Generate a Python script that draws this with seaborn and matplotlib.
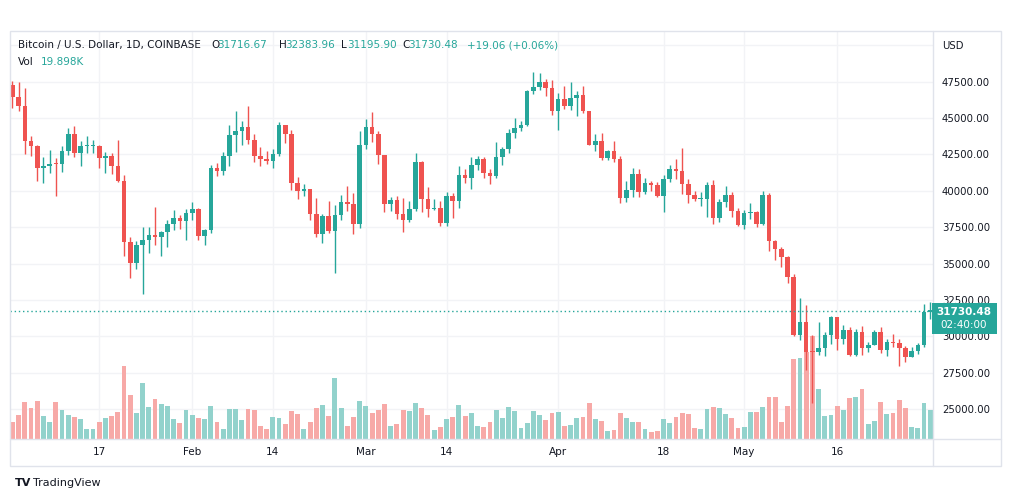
import matplotlib
matplotlib.use("Agg")
import matplotlib.pyplot as plt
from matplotlib.patches import Rectangle
from matplotlib.lines import Line2D
import seaborn as sns
import pandas as pd
import numpy as np

W, H = 1012, 501

# daily BTC/USD candles, Coinbase, 2022-01-03 .. 2022-05-31
dates = pd.date_range("2022-01-03", "2022-05-31", freq="D")

opens = [
    # Jan
    47300, 46430, 45830, 43430, 43080, 41550, 41680, 41860, 41830, 42730,
    43920, 42590, 43080, 43100, 43110, 42230, 42380, 41680, 40700, 36470,
    35050, 36280, 36660, 36960, 36820, 37170, 37720, 38170, 37920,
    # Feb
    38480, 38740, 36920, 37320, 41570, 41400, 42400, 43840, 44090, 44380,
    43530, 42390, 42210, 42060, 42550, 44560, 43900, 40560, 40000, 40110,
    38390, 37030, 38260, 37260, 38330, 39230, 39130, 37700,
    # Mar
    43170, 44420, 43900, 42460, 39130, 39390, 38410, 38010, 38730, 41960,
    39430, 38730, 38810, 37790, 39670, 39290, 41120, 40920, 41770, 42210,
    41260, 41000, 42360, 42900, 43950, 44320, 44530, 46830, 47120, 47450,
    47050,
    # Apr
    45520, 46290, 45830, 46410, 46590, 45520, 43180, 43450, 42260, 42760,
    42160, 39530, 40080, 41150, 39940, 40550, 40390, 39680, 40800, 41500,
    41360, 40480, 39710, 39450, 39460, 40430, 38110, 39240, 39740, 38600,
    # May
    37650, 38470, 38530, 37730, 39690, 36550, 36030, 35470, 34060, 30080,
    31010, 28990, 28930, 29240, 30080, 31330, 29850, 30420, 28700, 30310,
    29190, 29430, 30280, 29100, 29650, 29540, 29200, 28620, 29020, 29440,
    31716.67,
]

highs = [
    47570, 47500, 47070, 43750, 43140, 42300, 42800, 42250, 43100, 44350,
    44450, 43450, 43790, 43480, 43180, 42680, 42580, 43500, 41100, 36830,
    36580, 37550, 37550, 38920, 37230, 38000, 38720, 38370, 38740,
    39250, 38850, 37390, 41760, 41940, 42650, 44500, 45490, 44800, 45850,
    43920, 43000, 42750, 42880, 44740, 44560, 44180, 40960, 40450, 40150,
    39500, 38440, 39280, 39000, 39720, 40320, 39870, 44080,
    44950, 45400, 44100, 42490, 39610, 39680, 39520, 39330, 42580, 42040,
    40250, 39470, 39300, 39910, 39870, 41720, 41480, 42320, 42400, 42300,
    41530, 43360, 42990, 44220, 45000, 44800, 46920, 48200, 48110, 47680,
    47600,
    46700, 47200, 47450, 46880, 47180, 45520, 43900, 43970, 42800, 43430,
    42420, 40690, 41560, 41500, 40870, 40710, 40600, 41120, 41760, 42200,
    42980, 40790, 39990, 39930, 40620, 40780, 39460, 40370, 39920, 38800,
    38660, 39160, 38640, 40000, 39840, 36650, 36150, 35500, 34260, 32660,
    32150, 30100, 31000, 30300, 31420, 31330, 30760, 30650, 30520, 30730,
    29630, 30450, 30650, 29800, 30200, 29860, 29380, 29250, 29550, 32220,
    32383.96,
]

lows = [
    45700, 45500, 42500, 42430, 40700, 40550, 41230, 39650, 41270, 42450,
    42300, 41740, 42590, 42600, 41550, 41250, 41140, 40600, 35500, 34010,
    34620, 32930, 35720, 36250, 35510, 36160, 37320, 37360, 36630,
    38000, 36620, 36250, 37080, 40990, 41110, 41680, 42690, 43140, 43200,
    42000, 41740, 41870, 41570, 42430, 43320, 40080, 39460, 39640, 38000,
    36830, 36400, 37100, 34340, 38020, 38620, 37020, 37460,
    42850, 43330, 41860, 38560, 38610, 38090, 37170, 37860, 38650, 38550,
    38220, 38660, 37580, 37590, 38110, 38830, 40530, 40150, 41460, 40920,
    40490, 40900, 41750, 42580, 43600, 44080, 44430, 46650, 46930, 46540,
    45230,
    44200, 45650, 45550, 45130, 45370, 43120, 42750, 42110, 42130, 42000,
    39200, 39250, 39580, 39560, 39770, 40010, 39550, 38540, 40580, 40830,
    39760, 39200, 39300, 38930, 38200, 37700, 37880, 38900, 38190, 37600,
    37400, 38060, 37520, 37680, 35860, 35280, 34750, 33700, 30030, 29750,
    27720, 25400, 28700, 28650, 29500, 29100, 29480, 28650, 28680, 28740,
    28940, 29420, 28900, 28650, 29300, 28000, 28260, 28560, 28830, 29300,
    31195.90,
]

closes = [
    46430, 45830, 43430, 43080, 41550, 41680, 41860, 41830, 42730, 43920,
    42590, 43080, 43100, 43110, 42230, 42380, 41680, 40700, 36470, 35050,
    36280, 36660, 36960, 36820, 37170, 37720, 38170, 37920, 38480,
    38740, 36920, 37320, 41570, 41400, 42400, 43840, 44090, 44380, 43530,
    42390, 42210, 42060, 42550, 44560, 43900, 40560, 40000, 40110, 38390,
    37030, 38260, 37260, 38330, 39230, 39130, 37700, 43170,
    44420, 43900, 42460, 39130, 39390, 38410, 38010, 38730, 41960, 39430,
    38730, 38810, 37790, 39670, 39290, 41120, 40920, 41770, 42210, 41260,
    41000, 42360, 42900, 43950, 44320, 44530, 46830, 47120, 47450, 47050,
    45520,
    46290, 45830, 46410, 46590, 45520, 43180, 43450, 42260, 42760, 42160,
    39530, 40080, 41150, 39940, 40550, 40390, 39680, 40800, 41500, 41360,
    40480, 39710, 39450, 39460, 40430, 38110, 39240, 39740, 38600, 37650,
    38470, 38530, 37730, 39690, 36550, 36030, 35470, 34060, 30080, 31010,
    28940, 28930, 29240, 30080, 31330, 29850, 30420, 28700, 30310, 29190,
    29430, 30280, 29100, 29650, 29540, 29200, 28620, 29020, 29440, 31716.67,
    31730.48,
]

# volume in thousands of BTC
volumes_k = [
    11.3, 16.5, 25.3, 21.3, 26.0, 15.8, 11.8, 25.3, 19.9, 16.5,
    15.2, 13.8, 7.0, 7.0, 11.8, 14.5, 15.8, 18.6, 49.8, 30.1,
    17.9, 38.2, 22.0, 27.4, 24.0, 22.6, 13.8, 11.1, 19.9,
    16.5, 14.5, 13.8, 22.6, 11.8, 7.0, 20.6, 20.6, 13.1, 20.6,
    19.9, 9.1, 7.0, 15.2, 14.5, 10.4, 19.2, 17.2, 7.0, 11.8,
    21.3, 23.3, 15.8, 41.6, 21.3, 9.1, 15.2, 26.0,
    22.6, 17.9, 19.9, 24.0, 9.1, 10.4, 19.9, 19.2, 24.7, 21.3,
    16.5, 6.3, 8.4, 13.8, 15.2, 23.3, 15.8, 17.9, 9.1, 8.4,
    11.8, 19.9, 14.5, 22.0, 19.2, 7.7, 11.1, 19.2, 16.5, 13.1,
    17.9,
    18.6, 9.1, 9.7, 14.5, 15.2, 24.7, 13.8, 12.4, 5.7, 6.3,
    17.9, 14.5, 11.8, 11.8, 7.0, 5.0, 5.7, 13.8, 11.1, 15.2,
    17.9, 17.2, 7.7, 7.0, 20.6, 22.0, 21.3, 17.2, 14.5, 7.7,
    8.4, 18.6, 18.6, 22.0, 28.7, 28.7, 11.8, 22.6, 54.5, 55.2,
    58.8, 70.2, 34.2, 15.8, 16.5, 22.6, 19.9, 28.1, 28.7, 34.2,
    10.4, 12.4, 25.3, 17.2, 17.9, 26.7, 21.3, 8.4, 7.7, 24.7,
    19.898,
]

tick_dates = ["2022-01-17", "2022-02-01", "2022-02-14", "2022-03-01", "2022-03-14",
              "2022-04-01", "2022-04-18", "2022-05-01", "2022-05-16"]
tick_labels = ["17", "Feb", "14", "Mar", "14", "Apr", "18", "May", "16"]
price_ticks = [25000, 27500, 30000, 32500, 35000, 37500, 40000, 42500, 45000, 47500, 50000]

last_price = 31730.48

UP = "#26a69a"
DOWN = "#ef5350"
UP_VOL = "#92d2cc"
DOWN_VOL = "#f7a9a7"
GRID = "#f2f3f6"
FRAME = "#e0e3eb"
TEXT = "#131722"

df = pd.DataFrame({"date": dates, "open": opens, "high": highs, "low": lows,
                   "close": closes, "volume": volumes_k})
df["pos"] = np.arange(len(df))
df["dir"] = np.where(df["close"] >= df["open"], "up", "down")

sns.set_theme(style="white")
plt.rcParams["font.family"] = ["DejaVu Sans"]

fig = plt.figure(figsize=(W / 100, H / 100), dpi=100)


def fx(x):
    return x / W


def fy(y):
    return 1 - y / H


rect = [fx(10), fy(439), (932.7 - 10) / W, (439 - 31) / H]
ylo, yhi = 22960, 50982
xlo, xhi = -0.39, 148.4

tick_pos = (pd.to_datetime(tick_dates) - dates[0]).days.values

# grid layer
axg = fig.add_axes(rect)
axg.set_xlim(xlo, xhi)
axg.set_ylim(ylo, yhi)
axg.set_xticks(tick_pos)
axg.set_yticks(price_ticks)
axg.grid(True, color=GRID, lw=1)
axg.tick_params(labelbottom=False, labelleft=False, length=0)
for s in axg.spines.values():
    s.set_visible(False)

# volume layer
axv = fig.add_axes(rect)
axv.patch.set_visible(False)
sns.barplot(data=df, x="pos", y="volume", hue="dir",
            palette={"up": UP_VOL, "down": DOWN_VOL}, native_scale=True,
            width=0.78, dodge=False, errorbar=None, saturation=1,
            legend=False, linewidth=0, ax=axv)
axv.set_xlim(xlo, xhi)
axv.set_ylim(0, 408 * 0.6784)
axv.axis("off")

# candle layer
axc = fig.add_axes(rect)
axc.patch.set_visible(False)
colors = np.where(df["dir"] == "up", UP, DOWN)
body_lo = np.minimum(df["open"], df["close"])
body_h = np.maximum(np.abs(df["close"] - df["open"]), 70)
axc.vlines(df["pos"], df["low"], df["high"], colors=colors, lw=1)
axc.bar(df["pos"], body_h, bottom=body_lo, width=0.74, color=colors, linewidth=0)
axc.axhline(last_price, color=UP, lw=1, linestyle=(0, (1, 2)))

axc.set_xlim(xlo, xhi)
axc.set_ylim(ylo, yhi)
axc.set_xticks(tick_pos, tick_labels)
axc.yaxis.tick_right()
axc.set_yticks(price_ticks, [f"{v:.2f}" if v < 50000 else "USD" for v in price_ticks])
axc.tick_params(axis="y", length=0, pad=6.7, labelsize=7.3, labelcolor=TEXT,
                labelleft=False, labelright=True)
axc.tick_params(axis="x", length=0, pad=5.5, labelsize=7.5, labelcolor=TEXT)
axc.grid(False)
for s in axc.spines.values():
    s.set_visible(False)

# widget frame and axis separators
fig.add_artist(Rectangle((fx(10), fy(466)), (1001 - 10) / W, (466 - 31) / H,
                         transform=fig.transFigure, fill=False, ec=FRAME, lw=1))
fig.add_artist(Line2D([fx(932.7), fx(932.7)], [fy(31), fy(466)], color=FRAME, lw=1))
fig.add_artist(Line2D([fx(10), fx(1001)], [fy(439), fy(439)], color=FRAME, lw=1))

# last price label
fig.add_artist(Rectangle((fx(931.7), fy(334)), 65 / W, 31 / H,
                         transform=fig.transFigure, fc=UP, ec="none", zorder=3))
fig.text(fx(964), fy(312), "31730.48", color="white", size=7.5, weight="bold",
         ha="center", va="center", zorder=4)
fig.text(fx(964), fy(325.5), "02:40:00", color="white", size=7.5, ha="center", va="center", zorder=4)

# legend header
fig.text(fx(18), fy(45), "Bitcoin / U.S. Dollar, 1D, COINBASE", color=TEXT, size=7.5, va="center")
for label, value, x in [("O", "31716.67", 211), ("H", "32383.96", 279),
                        ("L", "31195.90", 341), ("C", "31730.48", 402)]:
    fig.text(fx(x), fy(45), label, color=TEXT, size=7.5, va="center")
    fig.text(fx(x + 6.5), fy(45), value, color=UP, size=7.5, va="center")
fig.text(fx(467), fy(45), "+19.06 (+0.06%)", color=UP, size=7.5, va="center")
fig.text(fx(18), fy(62), "Vol", color=TEXT, size=7.5, va="center")
fig.text(fx(41), fy(62), "19.898K", color=UP, size=7.5, va="center")

# footer
fig.text(fx(15), fy(483), "TV", color=TEXT, size=8, weight="heavy", va="center")
fig.text(fx(33), fy(483), "TradingView", color=TEXT, size=8, va="center")

fig.savefig("out.png", dpi=100)
